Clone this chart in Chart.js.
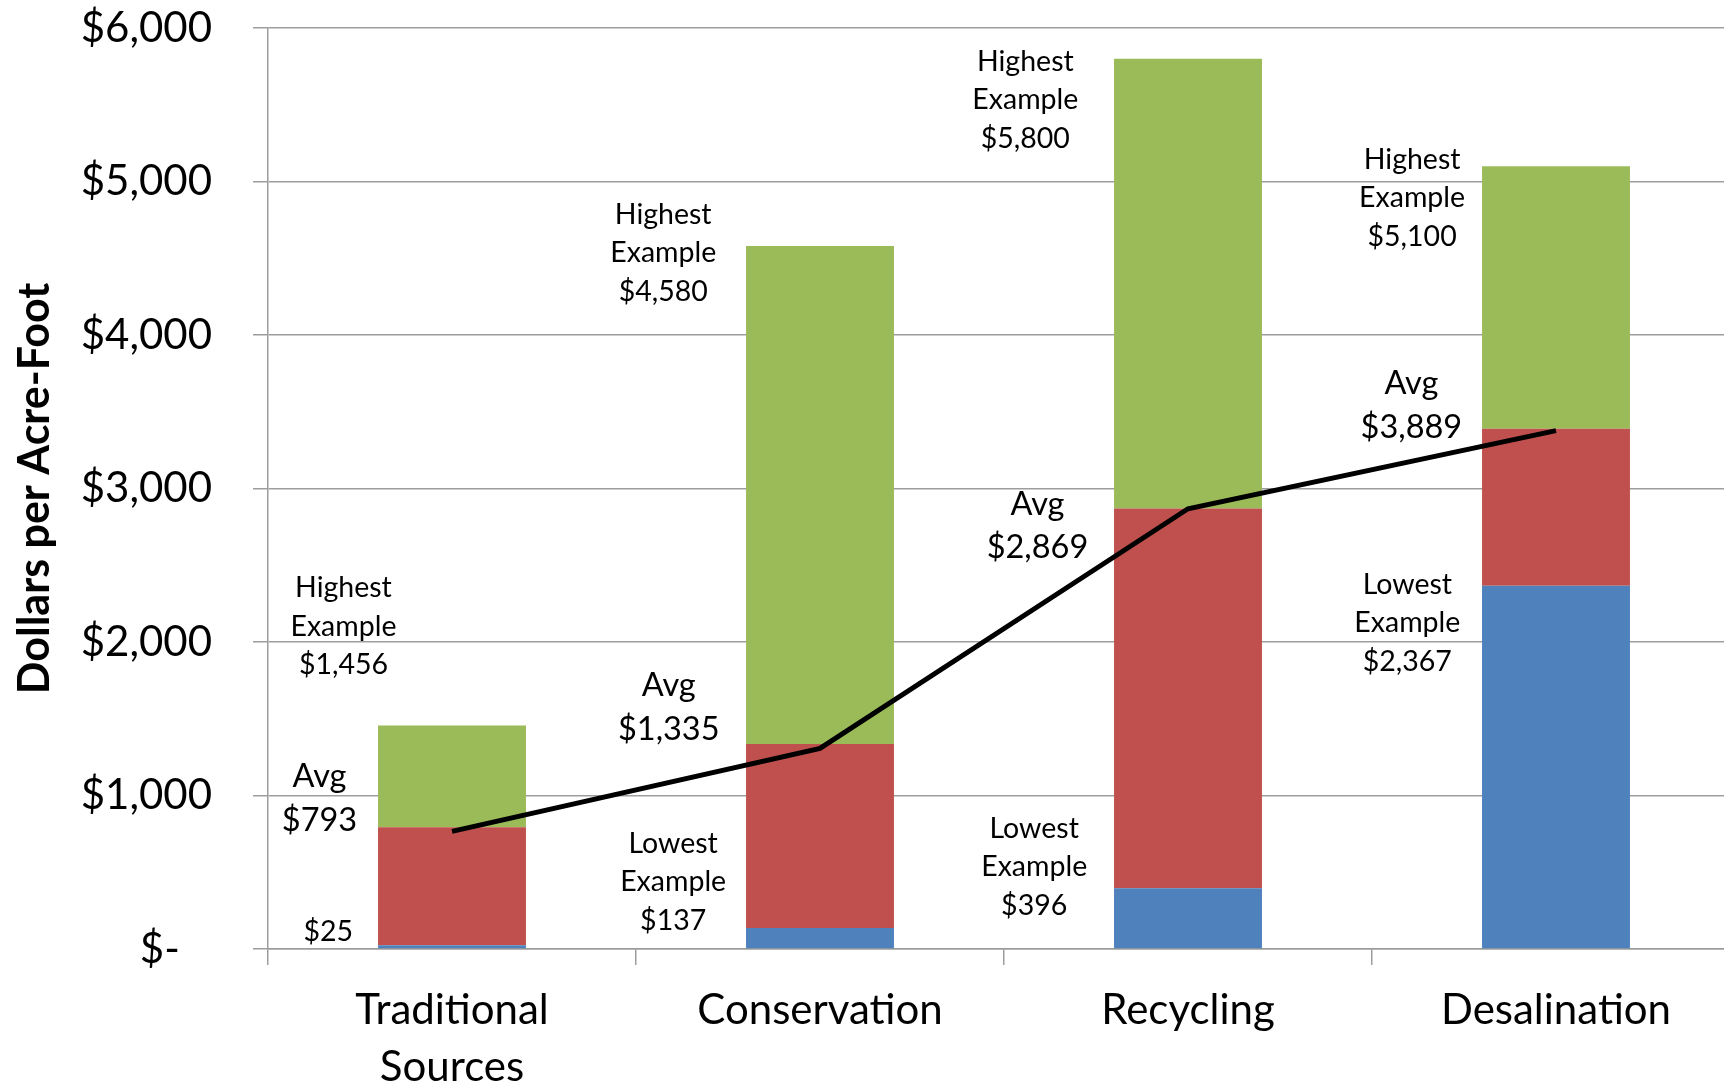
<!DOCTYPE html>
<html>
<head>
<meta charset="utf-8">
<script src="https://cdn.jsdelivr.net/npm/chart.js@4/dist/chart.umd.min.js"></script>
<style>
  html, body { margin: 0; padding: 0; background: #fff; overflow: hidden; }
  #wrap { width: 1740px; height: 1088px; }
</style>
</head>
<body>
<div id="wrap"><canvas id="c" width="1740" height="1088"></canvas></div>
<script>
// ---- data ----
const categories = [['Traditional', 'Sources'], 'Conservation', 'Recycling', 'Desalination'];
const lowestValues  = [25, 137, 396, 2367];
const averageValues = [793, 1335, 2869, 3389];
const highestValues = [1456, 4580, 5800, 5100];
const trendValues   = [766, 1307, 2868, 3377];

const lowestLabels  = ['$25', '$137', '$396', '$2,367'];
const averageLabels = ['$793', '$1,335', '$2,869', '$3,889'];
const highestLabels = ['$1,456', '$4,580', '$5,800', '$5,100'];

const yTickLabels = ['$-', '$1,000', '$2,000', '$3,000', '$4,000', '$5,000', '$6,000'];

// derived stacked segments
const baseSeg = lowestValues.slice();
const midSeg  = averageValues.map((v, i) => v - lowestValues[i]);
const topSeg  = highestValues.map((v, i) => v - averageValues[i]);

// ---- annotation placement (category units / value units) ----
const annotationPlacement = {
  highest: [[-0.295, 2100], [0.574, 4535], [1.558, 5532], [2.609, 4893]],
  average: [[-0.36, 980], [0.589, 1572], [1.591, 2754], [2.607, 3542]],
  lowest:  [[-0.336, 113], [0.601, 437], [1.582, 534], [2.596, 2125]]
};

const FONT = 'Lato, "Open Sans", sans-serif';
const GRID = '#9d9d9d';

const annotationPlugin = {
  id: 'annot',
  afterDatasetsDraw(chart) {
    const ctx = chart.ctx;
    const xs = chart.scales.x, ys = chart.scales.y;
    const drawBlock = (pos, lines, size, lh) => {
      const cx = xs.getPixelForValue(pos[0]);
      const cy = ys.getPixelForValue(pos[1]);
      ctx.save();
      ctx.font = size + 'px ' + FONT;
      ctx.fillStyle = '#000';
      ctx.textAlign = 'center';
      ctx.textBaseline = 'middle';
      const n = lines.length;
      lines.forEach((t, k) => ctx.fillText(t, cx, cy + (k - (n - 1) / 2) * lh));
      ctx.restore();
    };
    for (let i = 0; i < categories.length; i++) {
      drawBlock(annotationPlacement.highest[i], ['Highest', 'Example', highestLabels[i]], 28.5, 38.5);
      drawBlock(annotationPlacement.average[i], ['Avg', averageLabels[i]], 32.5, 43.5);
      const low = i === 0 ? [lowestLabels[i]] : ['Lowest', 'Example', lowestLabels[i]];
      drawBlock(annotationPlacement.lowest[i], low, 28.5, 38.5);
    }
  }
};

new Chart(document.getElementById('c'), {
  data: {
    labels: categories,
    datasets: [
      { type: 'line', label: 'Average', data: trendValues, borderColor: '#000', borderWidth: 5,
        pointRadius: 0, tension: 0, fill: false, order: 0, stack: 'line' },
      { type: 'bar', label: 'Lowest', data: baseSeg, backgroundColor: '#4F81BD', order: 1, stack: 's' },
      { type: 'bar', label: 'Average', data: midSeg, backgroundColor: '#C0504D', order: 1, stack: 's' },
      { type: 'bar', label: 'Highest', data: topSeg, backgroundColor: '#9BBB59', order: 1, stack: 's' }
    ]
  },
  options: {
    responsive: false,
    animation: false,
    devicePixelRatio: 1,
    layout: { padding: { top: 28, left: 0, right: 0, bottom: 0 } },
    datasets: { bar: { categoryPercentage: 1, barPercentage: 0.402 } },
    plugins: { legend: { display: false }, tooltip: { enabled: false } },
    scales: {
      x: {
        stacked: true,
        offset: true,
        grid: { display: true, drawOnChartArea: false, drawTicks: true, tickLength: 16, color: GRID, lineWidth: 1.5, offset: true },
        border: { display: true, color: GRID, width: 1.5 },
        ticks: { color: '#000', font: { family: FONT, size: 42, lineHeight: 1.38 }, padding: 16, maxRotation: 0, autoSkip: false },
        afterFit(s) { s.height = 139; s.paddingLeft = 0; s.paddingRight = 0; }
      },
      y: {
        stacked: true,
        min: 0, max: 6000,
        grid: { color: GRID, lineWidth: 1.5, drawTicks: true, tickLength: 15 },
        border: { display: true, color: GRID, width: 1.5 },
        ticks: {
          stepSize: 1000, color: '#000', padding: 41,
          font: { family: FONT, size: 42 },
          callback: (v, i) => (v === 0 ? yTickLabels[0] + '   ' : yTickLabels[i])
        },
        title: { display: true, text: 'Dollars per Acre-Foot', color: '#000',
                 font: { family: FONT, size: 43, weight: 'bold' }, padding: { top: 9, bottom: 0 } },
        afterFit(s) { s.width = 268; s.paddingTop = 0; s.paddingBottom = 0; }
      }
    }
  },
  plugins: [annotationPlugin]
});
</script>
</body>
</html>
